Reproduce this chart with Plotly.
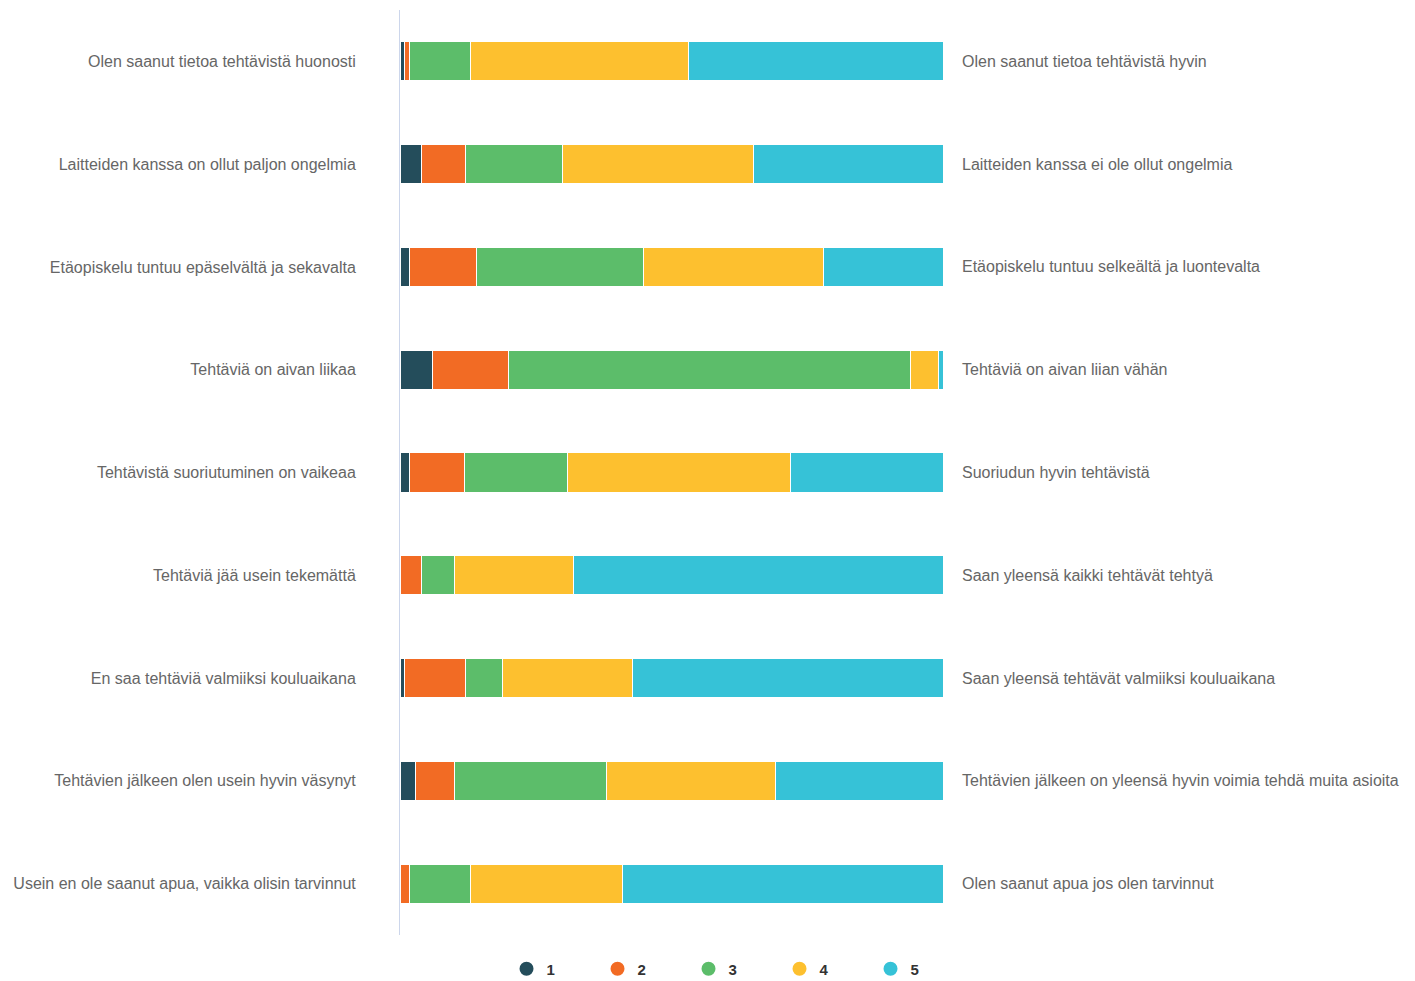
import plotly.graph_objects as go

left_labels = [
    "Olen saanut tietoa tehtävistä huonosti",
    "Laitteiden kanssa on ollut paljon ongelmia",
    "Etäopiskelu tuntuu epäselvältä ja sekavalta",
    "Tehtäviä on aivan liikaa",
    "Tehtävistä suoriutuminen on vaikeaa",
    "Tehtäviä jää usein tekemättä",
    "En saa tehtäviä valmiiksi kouluaikana",
    "Tehtävien jälkeen olen usein hyvin väsynyt",
    "Usein en ole saanut apua, vaikka olisin tarvinnut",
]
right_labels = [
    "Olen saanut tietoa tehtävistä hyvin",
    "Laitteiden kanssa ei ole ollut ongelmia",
    "Etäopiskelu tuntuu selkeältä ja luontevalta",
    "Tehtäviä on aivan liian vähän",
    "Suoriudun hyvin tehtävistä",
    "Saan yleensä kaikki tehtävät tehtyä",
    "Saan yleensä tehtävät valmiiksi kouluaikana",
    "Tehtävien jälkeen on yleensä hyvin voimia tehdä muita asioita",
    "Olen saanut apua jos olen tarvinnut",
]
series_names = ["1", "2", "3", "4", "5"]
v1 = [0.9, 3.9, 1.8, 5.9, 1.8, 0.0, 0.9, 2.8, 0.0]
v2 = [0.9, 8.1, 12.2, 14.0, 10.1, 3.9, 11.1, 7.2, 1.8]
v3 = [11.1, 17.9, 30.9, 74.2, 19.0, 6.1, 6.8, 28.0, 11.1]
v4 = [40.2, 35.2, 33.0, 5.0, 41.1, 21.9, 24.1, 31.1, 28.0]
v5 = [47.0, 35.0, 22.1, 0.9, 28.0, 68.1, 57.1, 30.9, 59.1]
colors = ["#244d5b", "#f26b24", "#5cbd6a", "#fdc02f", "#36c2d7"]

FONT = "Liberation Sans, Arial, sans-serif"

fig = go.Figure()
for name, vals, col in zip(series_names, [v1, v2, v3, v4, v5], colors):
    fig.add_trace(go.Bar(
        y=left_labels, x=vals, orientation="h", name=name,
        marker=dict(color=col, line=dict(color="white", width=1)),
        showlegend=False,
    ))
for name, col in zip(series_names, colors):
    fig.add_trace(go.Scatter(
        x=[None], y=[None], mode="markers", name=name,
        marker=dict(color=col, size=16, symbol="circle", line=dict(color=col, width=2)),
        showlegend=True,
    ))

for lab, rl in zip(left_labels, right_labels):
    fig.add_annotation(
        x=1, xref="paper", y=lab, yref="y", text=rl, showarrow=False,
        xanchor="left", xshift=17, font=dict(size=16, color="#666666", family=FONT),
    )

fig.update_layout(
    barmode="stack",
    bargap=0.62,
    width=1407, height=973,
    margin=dict(l=392, r=472, t=2, b=46),
    paper_bgcolor="white", plot_bgcolor="white",
    font=dict(family=FONT, size=16, color="#666666"),
    xaxis=dict(range=[0, 100], visible=False, fixedrange=True),
    yaxis=dict(autorange="reversed", showline=True, linecolor="#ccd6eb", linewidth=1,
               showgrid=False, zeroline=False, ticks="", ticklabelstandoff=40,
               tickfont=dict(size=16, color="#666666", family=FONT)),
    legend=dict(orientation="h", traceorder="normal",
                xref="container", x=0.516, xanchor="center",
                yref="container", y=12 / 973, yanchor="middle",
                entrywidth=46, itemwidth=30,
                font=dict(size=15, color="#333333", family=FONT, weight="bold"),
                itemsizing="constant"),
)

fig.write_html("out.html")
